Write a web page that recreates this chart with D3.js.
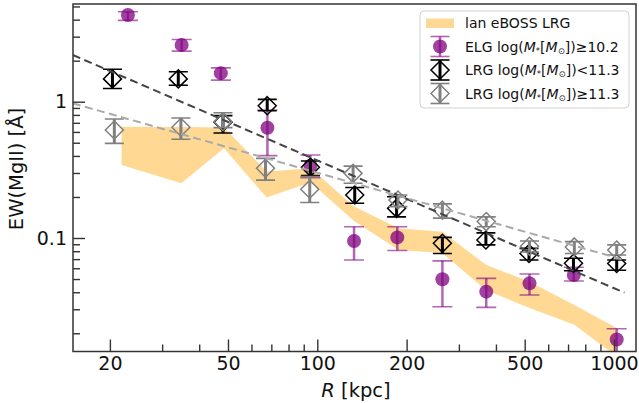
<!DOCTYPE html>
<html><head><meta charset="utf-8">
<script src="https://cdn.jsdelivr.net/npm/d3@7"></script>
<style>body{margin:0;background:#fff} svg{display:block;font-family:"DejaVu Sans",sans-serif}</style>
</head><body><svg id="c" width="639" height="403"></svg>
<script>
// ---- data ----
const elgR  = [23.0, 34.9, 47.3, 67.9, 94.8, 133, 186, 264, 371, 519, 732, 1021];
const elgEW = [4.33, 2.61, 1.62, 0.644, 0.339, 0.095, 0.101, 0.0498, 0.0404, 0.0465, 0.0535, 0.018];
const elgHi = [4.57, 2.86, 1.77, 0.869, 0.406, 0.121, 0.121, 0.068, 0.0506, 0.0544, 0.061, 0.0216];
const elgLo = [3.95, 2.35, 1.44, 0.402, 0.277, 0.069, 0.081, 0.0313, 0.031, 0.0382, 0.0484, 0.0140];

const lrgLowR  = [20.4, 34.0, 48.1, 67.8, 94.8, 133.7, 185, 264, 370, 517, 730, 1021];
const lrgLowEW = [1.47, 1.47, 0.706, 0.935, 0.330, 0.207, 0.165, 0.0914, 0.0967, 0.077, 0.0652, 0.065];
const lrgLowHi = [1.73, 1.66, 0.79, 1.04, 0.367, 0.235, 0.201, 0.101, 0.109, 0.084, 0.071, 0.069];
const lrgLowLo = [1.25, 1.32, 0.59, 0.859, 0.287, 0.18, 0.143, 0.077, 0.089, 0.069, 0.0575, 0.058];

const lrgHighR  = [20.7, 34.7, 48.1, 66.9, 94.3, 132, 187, 264, 371, 519, 735, 1021];
const lrgHighEW = [0.62, 0.649, 0.713, 0.325, 0.228, 0.298, 0.19, 0.160, 0.132, 0.087, 0.086, 0.0816];
const lrgHighHi = [0.746, 0.759, 0.83, 0.384, 0.282, 0.337, 0.207, 0.178, 0.143, 0.095, 0.094, 0.089];
const lrgHighLo = [0.495, 0.53, 0.645, 0.266, 0.182, 0.252, 0.17, 0.14, 0.121, 0.079, 0.077, 0.075];

const bandR  = [21.9, 34.8, 48.5, 67.5, 95, 133, 188, 264, 370, 519, 735, 1021];
const bandHi = [0.656, 0.652, 0.647, 0.307, 0.325, 0.170, 0.118, 0.111, 0.0636, 0.0478, 0.0322, 0.0219];
const bandLo = [0.343, 0.252, 0.455, 0.198, 0.255, 0.133, 0.0815, 0.0775, 0.0415, 0.0306, 0.0231, 0.0135];

const fitR      = [15, 1084];
const fitLowEW  = [2.2, 0.0397];
const fitHighEW = [0.973, 0.069];

const xTicksMajor = [20, 50, 100, 200, 500, 1000];
const xTicksMinor = [30, 40, 60, 70, 80, 90, 300, 400, 600, 700, 800, 900];
const yTicksMajor = [0.1, 1];
const yTicksMinor = [0.02,0.03,0.04,0.05,0.06,0.07,0.08,0.09,0.2,0.3,0.4,0.5,0.6,0.7,0.8,0.9,2,3,4,5];

// ---- layout ----
const L=73, Rr=636, T=4, B=351.5;
const svg = d3.select("#c");
const x = d3.scaleLog().domain([15.02, 1186]).range([L, Rr]);
const y = d3.scaleLog().domain([0.0147, 5.21]).range([B, T]);

svg.append("defs").append("clipPath").attr("id","clip")
  .append("rect").attr("x",L).attr("y",T).attr("width",Rr-L).attr("height",B-T);
const g = svg.append("g").attr("clip-path","url(#clip)");

// band
const bandData = bandR.map((r,i)=>({r, hi:bandHi[i], lo:bandLo[i]}));
g.append("path").datum(bandData)
  .attr("d", d3.area().x(d=>x(d.r)).y0(d=>y(d.lo)).y1(d=>y(d.hi)))
  .attr("fill","#ffa500").attr("fill-opacity",0.42).attr("stroke","none");

function errSeries(Rs, EWs, His, Los, color, opacity, lw, capHalf) {
  const data = Rs.map((r,i)=>({r, ew:EWs[i], hi:His[i], lo:Los[i]}));
  const s = g.append("g").attr("stroke",color).attr("stroke-opacity",opacity);
  s.selectAll("line.v").data(data).join("line").attr("class","v")
    .attr("x1",d=>x(d.r)).attr("x2",d=>x(d.r)).attr("y1",d=>y(d.lo)).attr("y2",d=>y(d.hi))
    .attr("stroke-width",lw);
  s.selectAll("line.ct").data(data).join("line").attr("class","ct")
    .attr("x1",d=>x(d.r)-capHalf).attr("x2",d=>x(d.r)+capHalf).attr("y1",d=>y(d.hi)).attr("y2",d=>y(d.hi))
    .attr("stroke-width",1.6);
  s.selectAll("line.cb").data(data).join("line").attr("class","cb")
    .attr("x1",d=>x(d.r)-capHalf).attr("x2",d=>x(d.r)+capHalf).attr("y1",d=>y(d.lo)).attr("y2",d=>y(d.lo))
    .attr("stroke-width",1.6);
  return data;
}
const diamond = (cx,cy,h)=>`M${cx},${cy-h}L${cx+h},${cy}L${cx},${cy+h}L${cx-h},${cy}Z`;

// ELG
const elgData = errSeries(elgR, elgEW, elgHi, elgLo, "purple", 0.6, 2.5, 10);
g.append("g").selectAll("circle").data(elgData).join("circle")
  .attr("cx",d=>x(d.r)).attr("cy",d=>y(d.ew)).attr("r",7)
  .attr("fill","purple").attr("fill-opacity",0.75);

// LRG low mass (black)
const lowData = errSeries(lrgLowR, lrgLowEW, lrgLowHi, lrgLowLo, "#000", 1, 3, 9.5);
g.append("g").selectAll("path").data(lowData).join("path")
  .attr("d",d=>diamond(x(d.r),y(d.ew),9)).attr("fill","none").attr("stroke","#000").attr("stroke-width",1.5);

// LRG high mass (gray)
const highData = errSeries(lrgHighR, lrgHighEW, lrgHighHi, lrgHighLo, "#808080", 1, 3, 9.5);
g.append("g").selectAll("path").data(highData).join("path")
  .attr("d",d=>diamond(x(d.r),y(d.ew),9)).attr("fill","none").attr("stroke","#808080").attr("stroke-width",1.5);

// fit lines
const line = d3.line().x(d=>x(d[0])).y(d=>y(d[1]));
g.append("path").datum(fitR.map((r,i)=>[r,fitLowEW[i]])).attr("d",line)
  .attr("fill","none").attr("stroke","#444").attr("stroke-width",2).attr("stroke-dasharray","8,4.5");
g.append("path").datum(fitR.map((r,i)=>[r,fitHighEW[i]])).attr("d",line)
  .attr("fill","none").attr("stroke","#aaa").attr("stroke-width",2).attr("stroke-dasharray","8,4.5");

// axes
const axCol = "#333";
svg.append("g").attr("transform",`translate(0,${B})`)
  .call(d3.axisBottom(x).tickValues(xTicksMajor).tickFormat(d3.format("d")).tickSize(-12).tickPadding(5));
svg.append("g").attr("transform",`translate(0,${B})`)
  .call(d3.axisBottom(x).tickValues(xTicksMinor).tickFormat("").tickSize(-7));
svg.append("g").attr("transform",`translate(${L},0)`)
  .call(d3.axisLeft(y).tickValues(yTicksMajor).tickFormat(d=>d>=1?"1":"0.1").tickSize(-12).tickPadding(6));
svg.append("g").attr("transform",`translate(${L},0)`)
  .call(d3.axisLeft(y).tickValues(yTicksMinor).tickFormat("").tickSize(-7));
svg.selectAll(".domain").remove();
svg.selectAll(".tick line").attr("stroke",axCol).attr("stroke-width",1.4);
svg.selectAll(".tick text").attr("font-size",19).attr("fill","#111").attr("font-family","DejaVu Sans");

svg.append("rect").attr("x",L).attr("y",T).attr("width",Rr-L).attr("height",B-T)
  .attr("fill","none").attr("stroke",axCol).attr("stroke-width",1.5);

// axis labels
const xl = svg.append("text").attr("x",356).attr("y",397).attr("text-anchor","middle").attr("font-size",19.5).attr("fill","#111");
xl.append("tspan").attr("font-style","italic").text("R");
xl.append("tspan").text(" [kpc]");
svg.append("text").attr("transform","translate(23,169) rotate(-90)").attr("text-anchor","middle")
  .attr("font-size",19.5).attr("fill","#111").text("EW(MgII) [Å]");

// legend
const lg = svg.append("g");
lg.append("rect").attr("x",420).attr("y",11).attr("width",209).attr("height",97).attr("rx",4)
  .attr("fill","#fff").attr("fill-opacity",0.8).attr("stroke","#d0d0d0").attr("stroke-width",1);
const mx = 440;
const rows = [23, 46.5, 70, 93.5];
lg.append("rect").attr("x",426).attr("y",rows[0]-4.5).attr("width",28).attr("height",9.5)
  .attr("fill","#ffa500").attr("fill-opacity",0.42);
function legErr(cy,color,op,lw){
  lg.append("line").attr("x1",mx).attr("x2",mx).attr("y1",cy-10).attr("y2",cy+10).attr("stroke",color).attr("stroke-opacity",op).attr("stroke-width",lw);
  [cy-10,cy+10].forEach(yy=>lg.append("line").attr("x1",mx-9.5).attr("x2",mx+9.5).attr("y1",yy).attr("y2",yy).attr("stroke",color).attr("stroke-opacity",op).attr("stroke-width",1.6));
}
legErr(rows[1],"purple",0.6,2.5);
lg.append("circle").attr("cx",mx).attr("cy",rows[1]).attr("r",7).attr("fill","purple").attr("fill-opacity",0.75);
legErr(rows[2],"#000",1,3);
lg.append("path").attr("d",diamond(mx,rows[2],9)).attr("fill","none").attr("stroke","#000").attr("stroke-width",1.5);
legErr(rows[3],"#808080",1,3);
lg.append("path").attr("d",diamond(mx,rows[3],9)).attr("fill","none").attr("stroke","#808080").attr("stroke-width",1.5);

const labels = [
  {plain:"lan eBOSS LRG"},
  {pre:"ELG log(", post:"])≥10.2"},
  {pre:"LRG log(", post:"])<11.3"},
  {pre:"LRG log(", post:"])≥11.3"}
];
labels.forEach((lb,i)=>{
  const t = lg.append("text").attr("x",465).attr("y",rows[i]+5).attr("font-size",14).attr("fill","#111");
  if (lb.plain) { t.text(lb.plain); return; }
  t.append("tspan").text(lb.pre);
  t.append("tspan").attr("font-style","italic").text("M");
  t.append("tspan").attr("font-size",8.5).attr("dy",2).text("*");
  t.append("tspan").attr("dy",-2).text("[");
  t.append("tspan").attr("font-style","italic").text("M");
  t.append("tspan").attr("font-size",8.5).attr("dy",2).text("⊙");
  t.append("tspan").attr("dy",-2).text(lb.post);
});
</script></body></html>
